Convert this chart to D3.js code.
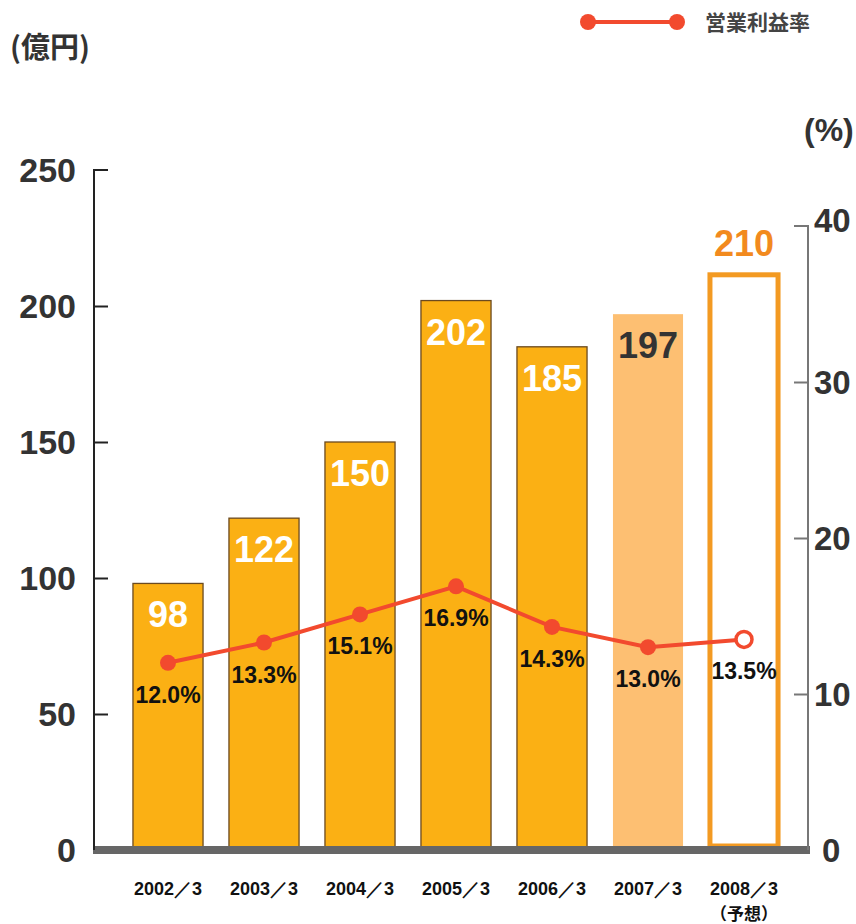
<!DOCTYPE html>
<html>
<head>
<meta charset="utf-8">
<script src="https://cdn.jsdelivr.net/npm/d3@7"></script>
<style>
  body { margin: 0; background: #fff; }
  svg text { font-family: "Liberation Sans", Arial, sans-serif; font-weight: bold; }
  .jp { font-family: "Noto Sans CJK JP", sans-serif; }
</style>
</head>
<body>
<div id="chart"></div>
<script>
var years = ["2002／3", "2003／3", "2004／3", "2005／3", "2006／3", "2007／3", "2008／3"];
var profit = [98, 122, 150, 202, 185, 197, 210];
var margin = [12.0, 13.3, 15.1, 16.9, 14.3, 13.0, 13.5];
var leftTicks = [0, 50, 100, 150, 200, 250];
var rightTicks = [0, 10, 20, 30, 40];

var svg = d3.select("#chart").append("svg")
  .attr("width", 856)
  .attr("height", 924);

var x = d3.scaleBand().domain(years).range([120, 792]).paddingInner(0.27).paddingOuter(0.135);
var y = d3.scaleLinear().domain([0, 250]).range([850, 170]);
var y2 = d3.scaleLinear().domain([0, 40]).range([850, 226]);

// bars (last one is the forecast, outline only)
svg.selectAll("rect.bar")
  .data(profit)
  .enter().append("rect")
  .attr("class", "bar")
  .attr("x", (d, i) => x(years[i]) + (i == 6 ? 1 : 0))
  .attr("width", (d, i) => x.bandwidth() - (i == 6 ? 2 : 0))
  .attr("y", (d, i) => y(d) - (i == 6 ? 4 : 0))
  .attr("height", (d, i) => y(0) - y(d) + (i == 6 ? 0 : 0))
  .style("fill", (d, i) => i < 5 ? "#fbb014" : (i == 5 ? "#fdbf72" : "#fff"))
  .style("stroke", (d, i) => i < 5 ? "#6b4a20" : (i == 6 ? "#f39a22" : "none"))
  .style("stroke-width", (d, i) => i == 6 ? 5 : 1.3);

// bar value labels
svg.selectAll("text.val")
  .data(profit)
  .enter().append("text")
  .attr("class", "val")
  .attr("text-anchor", "middle")
  .attr("x", (d, i) => x(years[i]) + x.bandwidth() / 2)
  .attr("y", (d, i) => i == 6 ? y(d) - 23 : y(d) + 44)
  .style("font-size", "36px")
  .style("fill", (d, i) => i < 5 ? "#fff" : (i == 5 ? "#333" : "#f28a1e"))
  .text(d => d);

// baseline
svg.append("rect")
  .attr("x", 93).attr("y", 846)
  .attr("width", 717).attr("height", 8)
  .style("fill", "#666");

// left axis
var left = svg.append("g")
  .attr("transform", "translate(94,0)")
  .call(d3.axisRight(y).tickValues(leftTicks).tickSize(14).tickFormat(""));
left.select(".domain").attr("d", "M14," + y(250) + "H0V" + y(0)).style("stroke", "#222").style("stroke-width", 2);
left.selectAll(".tick line").style("stroke", "#222").style("stroke-width", 2);
left.selectAll(".tick").filter(d => d == 0 || d == 250).select("line").remove();

svg.selectAll("text.lt")
  .data(leftTicks)
  .enter().append("text")
  .attr("class", "lt")
  .attr("text-anchor", "end")
  .attr("x", 76)
  .attr("y", d => y(d) + 12)
  .style("font-size", "34px")
  .style("fill", "#333")
  .text(d => d);

// right axis
var right = svg.append("g")
  .attr("transform", "translate(808,0)")
  .call(d3.axisLeft(y2).tickValues(rightTicks).tickSize(14).tickFormat(""));
right.select(".domain").attr("d", "M-14," + y2(40) + "H0V" + y2(0)).style("stroke", "#777").style("stroke-width", 2);
right.selectAll(".tick line").style("stroke", "#777").style("stroke-width", 2);
right.selectAll(".tick").filter(d => d == 0 || d == 40).select("line").remove();

svg.selectAll("text.rt")
  .data(rightTicks)
  .enter().append("text")
  .attr("class", "rt")
  .attr("x", d => d == 0 ? 822 : 814)
  .attr("y", d => d == 40 ? y2(d) + 6 : y2(d) + 12)
  .style("font-size", "33px")
  .style("fill", "#333")
  .text(d => d);

// margin line
var cx = i => x(years[i]) + x.bandwidth() / 2;
svg.append("path")
  .datum(margin)
  .attr("d", d3.line().x((d, i) => cx(i)).y(d => y2(d)))
  .style("fill", "none")
  .style("stroke", "#f24a2e")
  .style("stroke-width", 4);

svg.selectAll("circle.pt")
  .data(margin)
  .enter().append("circle")
  .attr("class", "pt")
  .attr("cx", (d, i) => cx(i))
  .attr("cy", d => y2(d))
  .attr("r", 8)
  .style("fill", (d, i) => i == 6 ? "#fff" : "#f24a2e")
  .style("stroke", "#f24a2e")
  .style("stroke-width", (d, i) => i == 6 ? 3.5 : 0);

svg.selectAll("text.pct")
  .data(margin)
  .enter().append("text")
  .attr("class", "pct")
  .attr("text-anchor", "middle")
  .attr("x", (d, i) => cx(i))
  .attr("y", d => y2(d) + 40)
  .style("font-size", "23px")
  .style("fill", "#111")
  .text(d => d.toFixed(1) + "%");

// x labels
svg.selectAll("text.xl")
  .data(years)
  .enter().append("text")
  .attr("class", "xl")
  .attr("text-anchor", "middle")
  .attr("x", d => x(d) + x.bandwidth() / 2)
  .attr("y", 895)
  .style("font-size", "18px")
  .style("fill", "#111")
  .text(d => d);

svg.append("text")
  .attr("class", "jp")
  .attr("text-anchor", "middle")
  .attr("x", cx(6))
  .attr("y", 920)
  .style("font-size", "17px")
  .style("fill", "#111")
  .text("（予想）");

// unit labels
svg.append("text")
  .attr("class", "jp")
  .attr("x", 10).attr("y", 58)
  .style("font-size", "29px")
  .style("fill", "#333")
  .text("(億円)");

svg.append("text")
  .attr("x", 804).attr("y", 141)
  .style("font-size", "32px")
  .style("fill", "#333")
  .text("(%)");

// legend
svg.append("line")
  .attr("x1", 588).attr("x2", 677).attr("y1", 22).attr("y2", 22)
  .style("stroke", "#f24a2e").style("stroke-width", 4);
svg.selectAll("circle.lg")
  .data([588, 677])
  .enter().append("circle")
  .attr("cx", d => d).attr("cy", 22).attr("r", 8)
  .style("fill", "#f24a2e");
svg.append("text")
  .attr("class", "jp")
  .attr("x", 705).attr("y", 30)
  .style("font-size", "21px")
  .style("fill", "#444")
  .text("営業利益率");
</script>
</body>
</html>
